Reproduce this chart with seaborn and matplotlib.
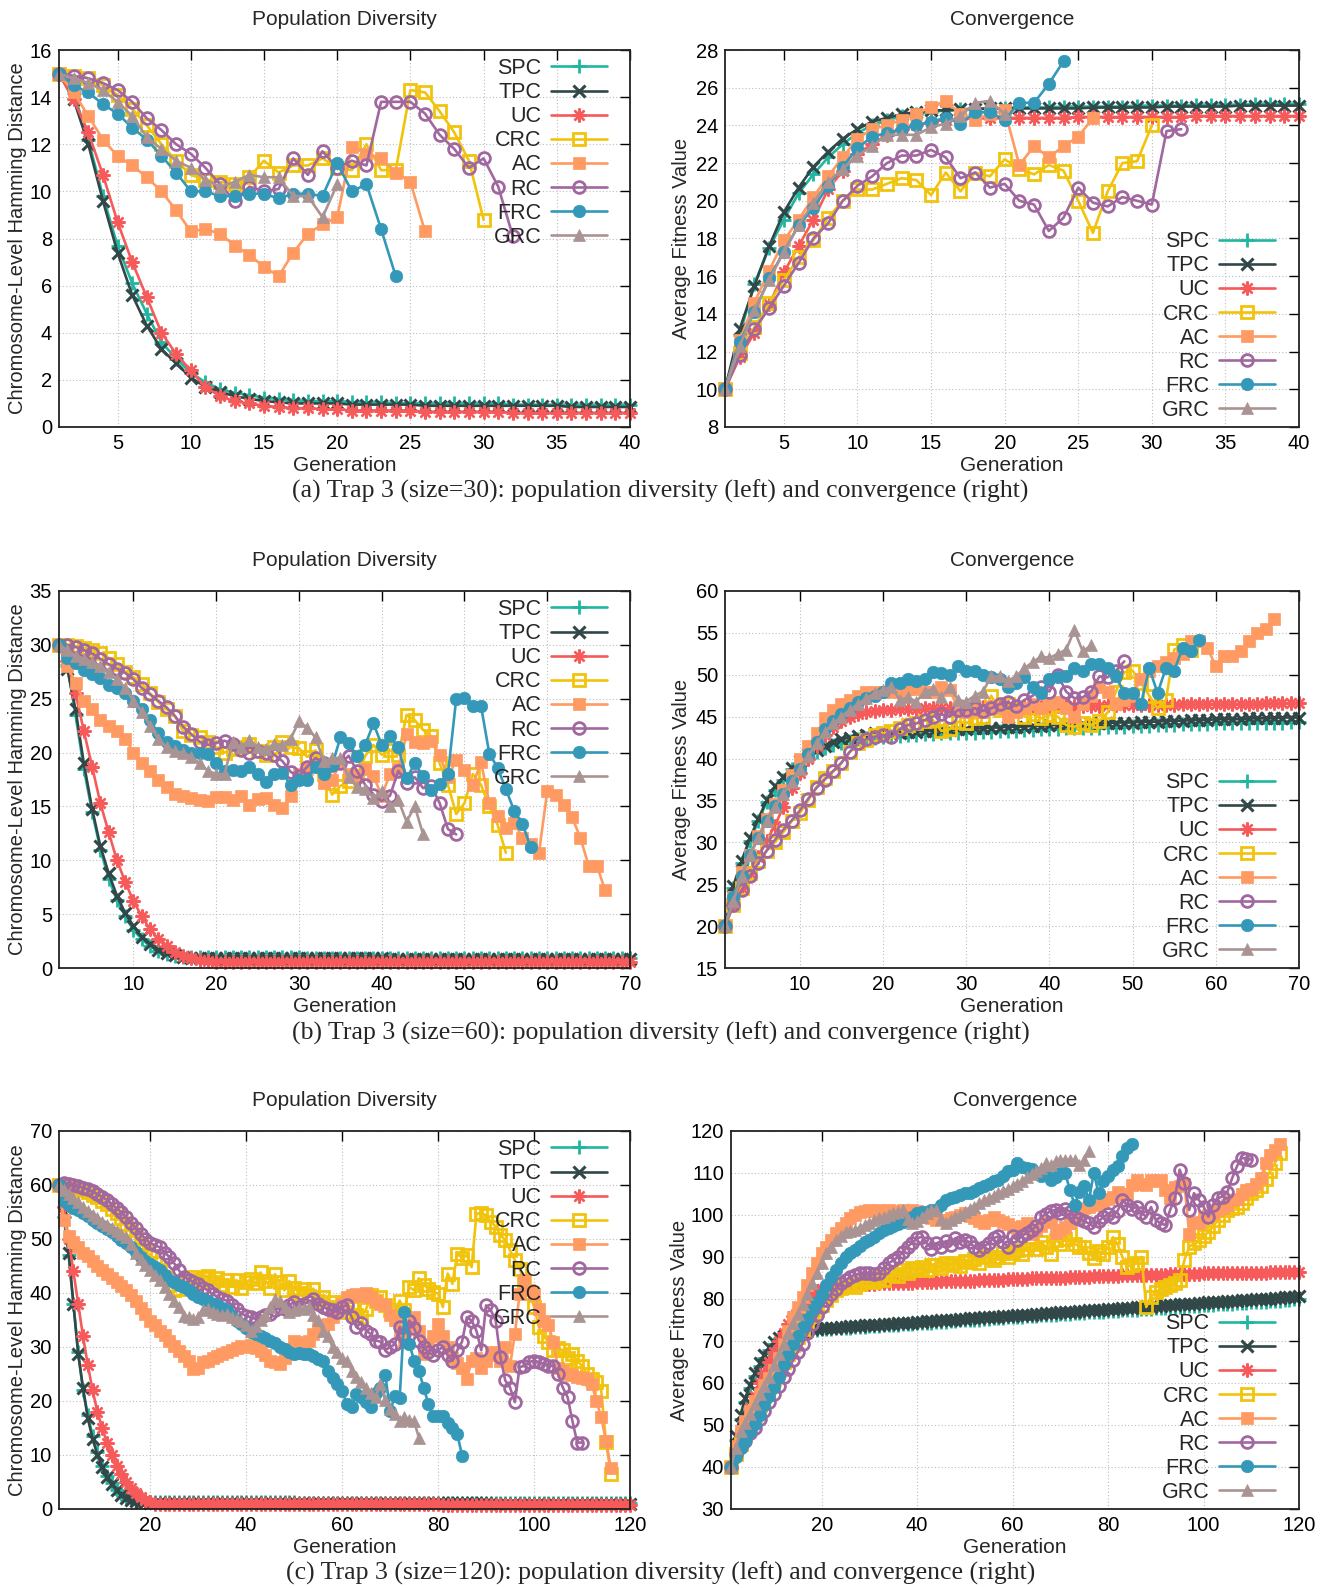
import numpy as np
import matplotlib
matplotlib.use("Agg")
import matplotlib.pyplot as plt
import seaborn as sns

sns.set_style("white")
plt.rcParams["font.family"] = ["Liberation Sans", "DejaVu Sans"]

METHODS = ["SPC", "TPC", "UC", "CRC", "AC", "RC", "FRC", "GRC"]
COLORS = {
    "SPC": "#20b7a0", "TPC": "#324747", "UC": "#f65a5a", "CRC": "#f2c30c",
    "AC": "#fe9a62", "RC": "#a1679f", "FRC": "#3498b9", "GRC": "#aa9393",
}

# ---------------- (a) Trap 3, size = 30 ----------------
a_div_spc = [15.0, 14.2, 12.2, 9.8, 7.7, 6.1, 4.8, 3.6, 2.9, 2.3,
             1.9, 1.6, 1.45, 1.35, 1.25, 1.2, 1.15, 1.1, 1.1, 1.1,
             1.05, 1.05, 1.05, 1.0, 1.0, 1.0, 1.0, 1.0, 1.0, 1.0,
             1.0, 0.95, 0.95, 0.95, 0.95, 0.95, 0.95, 0.95, 0.95, 0.95]
a_div_tpc = [15.0, 13.9, 12.0, 9.6, 7.4, 5.6, 4.3, 3.3, 2.7, 2.1,
             1.7, 1.5, 1.3, 1.2, 1.1, 1.05, 1.0, 1.0, 1.0, 1.0,
             0.95, 0.95, 0.95, 0.95, 0.95, 0.9, 0.9, 0.9, 0.9, 0.9,
             0.9, 0.9, 0.9, 0.9, 0.9, 0.85, 0.85, 0.85, 0.85, 0.85]
a_div_uc = [15.0, 13.9, 12.5, 10.7, 8.7, 7.0, 5.5, 4.0, 3.1, 2.4,
            1.7, 1.3, 1.1, 1.0, 0.9, 0.85, 0.8, 0.8, 0.75, 0.75,
            0.7, 0.7, 0.7, 0.7, 0.7, 0.65, 0.65, 0.65, 0.65, 0.65,
            0.65, 0.6, 0.6, 0.6, 0.6, 0.6, 0.6, 0.6, 0.6, 0.6]
a_div_crc = [15.0, 14.9, 14.8, 14.5, 14.1, 13.5, 12.8, 12.0, 11.3, 10.7,
             10.5, 10.4, 10.3, 10.6, 11.3, 10.8, 11.1, 11.1, 11.4, 11.0,
             10.9, 12.0, 10.9, 10.9, 14.3, 14.2, 13.4, 12.5, 11.3, 8.8]
a_div_ac = [15.0, 14.2, 13.2, 12.2, 11.5, 11.1, 10.6, 10.0, 9.2, 8.3,
            8.4, 8.2, 7.7, 7.3, 6.8, 6.4, 7.4, 8.2, 8.6, 8.9,
            11.9, 11.6, 11.4, 10.8, 10.4, 8.3]
a_div_rc = [15.0, 14.9, 14.8, 14.6, 14.3, 13.8, 13.1, 12.6, 12.0, 11.6,
            11.0, 10.3, 9.6, 10.2, 10.0, 10.1, 11.4, 10.7, 11.7, 11.0,
            11.3, 11.1, 13.8, 13.8, 13.8, 13.3, 12.4, 11.8, 11.0, 11.4,
            10.2, 8.1]
a_div_frc = [15.0, 14.5, 14.2, 13.7, 13.3, 12.7, 12.2, 11.5, 10.8, 10.0,
             10.0, 9.8, 9.8, 9.9, 9.9, 9.7, 9.9, 9.9, 9.8, 11.2,
             10.0, 10.3, 8.4, 6.4]
a_div_grc = [15.0, 14.8, 14.6, 14.3, 13.8, 13.2, 12.3, 11.8, 11.3, 11.0,
             10.5, 10.2, 10.4, 10.7, 10.6, 10.6, 9.8, 9.8, 8.9, 10.3]

a_conv_spc = [10.0, 12.9, 15.6, 17.5, 19.0, 20.4, 21.4, 22.3, 23.0, 23.6,
              24.0, 24.3, 24.5, 24.6, 24.7, 24.8, 24.85, 24.9, 24.9, 24.9,
              24.95, 24.95, 24.95, 25.0, 25.0, 25.0, 25.0, 25.0, 25.05, 25.05,
              25.05, 25.05, 25.1, 25.1, 25.1, 25.1, 25.15, 25.15, 25.15, 25.15]
a_conv_tpc = [10.0, 13.2, 15.5, 17.6, 19.4, 20.7, 21.8, 22.6, 23.3, 23.8,
              24.2, 24.4, 24.6, 24.7, 24.8, 24.8, 24.85, 24.85, 24.9, 24.9,
              24.9, 24.9, 24.9, 24.9, 24.9, 24.95, 24.95, 24.95, 24.95, 24.95,
              25.0, 25.0, 25.0, 25.0, 25.0, 25.05, 25.05, 25.05, 25.05, 25.05]
a_conv_uc = [10.0, 11.7, 13.0, 14.5, 16.2, 17.6, 19.0, 20.6, 21.6, 22.5,
             23.0, 23.5, 23.8, 24.0, 24.2, 24.3, 24.35, 24.4, 24.4, 24.4,
             24.4, 24.4, 24.4, 24.4, 24.45, 24.45, 24.45, 24.45, 24.45, 24.45,
             24.45, 24.45, 24.5, 24.5, 24.5, 24.5, 24.5, 24.5, 24.5, 24.5]
a_conv_crc = [10.0, 11.9, 13.3, 14.6, 15.8, 17.0, 17.9, 19.1, 20.0, 20.6,
              20.6, 20.9, 21.2, 21.1, 20.3, 21.5, 20.5, 21.5, 21.3, 22.2,
              21.7, 21.4, 21.9, 21.6, 20.0, 18.3, 20.5, 22.0, 22.1, 24.0]
a_conv_ac = [10.0, 12.6, 14.6, 16.3, 17.9, 19.0, 20.2, 21.3, 22.3, 23.3,
             23.8, 24.0, 24.3, 24.6, 25.0, 25.3, 24.6, 24.3, 24.6, 24.8,
             21.9, 22.9, 22.3, 22.9, 23.4, 24.4]
a_conv_rc = [10.0, 11.8, 13.2, 14.3, 15.5, 16.7, 18.0, 18.8, 20.0, 20.8,
             21.3, 22.0, 22.4, 22.4, 22.7, 22.3, 21.2, 21.5, 20.7, 20.9,
             20.0, 19.8, 18.4, 19.1, 20.7, 19.9, 19.7, 20.2, 20.0, 19.8,
             23.7, 23.8]
a_conv_frc = [10.0, 12.5, 14.1, 15.9, 17.3, 18.7, 19.6, 20.8, 21.8, 22.8,
              23.4, 23.6, 23.8, 24.0, 24.2, 24.4, 24.1, 24.7, 24.7, 24.3,
              25.2, 25.2, 26.2, 27.4]
a_conv_grc = [10.0, 12.3, 14.2, 15.8, 17.3, 18.7, 19.9, 21.0, 21.7, 22.4,
              22.9, 23.5, 23.5, 23.5, 23.9, 24.1, 24.5, 25.2, 25.3, 24.6]

# ---------------- (b) Trap 3, size = 60 ----------------
b_div_spc = [30.0, 28.0, 23.5, 18.5, 14.5, 11.0, 8.3, 6.3, 4.8, 3.5,
             2.7, 2.0, 1.6, 1.3, 1.15, 1.05, 1.0, 1.0, 1.0, 1.0,
             1.0, 1.0, 1.0, 1.0, 1.0, 1.0, 1.0, 1.0, 1.0, 1.0,
             0.95, 0.95, 0.95, 0.95, 0.95, 0.95, 0.95, 0.95, 0.95, 0.95,
             0.95, 0.95, 0.95, 0.95, 0.95, 0.95, 0.95, 0.95, 0.95, 0.95,
             0.9, 0.9, 0.9, 0.9, 0.9, 0.9, 0.9, 0.9, 0.9, 0.9,
             0.9, 0.9, 0.9, 0.9, 0.9, 0.9, 0.9, 0.9, 0.9, 0.9]
b_div_tpc = [30.0, 27.8, 24.0, 19.0, 14.8, 11.3, 8.8, 6.7, 5.1, 3.9,
             2.9, 2.2, 1.7, 1.4, 1.2, 1.05, 0.95, 0.9, 0.9, 0.9,
             0.9, 0.9, 0.9, 0.9, 0.9, 0.9, 0.9, 0.9, 0.9, 0.9,
             0.9, 0.9, 0.9, 0.9, 0.9, 0.9, 0.9, 0.9, 0.9, 0.9,
             0.85, 0.85, 0.85, 0.85, 0.85, 0.85, 0.85, 0.85, 0.85, 0.85,
             0.85, 0.85, 0.85, 0.85, 0.85, 0.85, 0.85, 0.85, 0.85, 0.85,
             0.85, 0.85, 0.85, 0.85, 0.85, 0.85, 0.85, 0.85, 0.85, 0.85]
b_div_uc = [30.0, 28.5, 25.5, 22.0, 18.7, 15.3, 12.6, 10.0, 8.0, 6.2,
            4.8, 3.6, 2.7, 2.0, 1.5, 1.1, 0.9, 0.75, 0.65, 0.6,
            0.6, 0.6, 0.6, 0.6, 0.6, 0.6, 0.6, 0.6, 0.6, 0.6,
            0.6, 0.6, 0.6, 0.6, 0.6, 0.6, 0.6, 0.6, 0.6, 0.6,
            0.6, 0.6, 0.6, 0.6, 0.6, 0.6, 0.6, 0.6, 0.6, 0.6,
            0.6, 0.6, 0.6, 0.6, 0.6, 0.6, 0.6, 0.6, 0.6, 0.6,
            0.6, 0.6, 0.6, 0.6, 0.6, 0.6, 0.6, 0.6, 0.6, 0.6]
b_div_crc = [30.0, 30.0, 29.9, 29.7, 29.5, 29.2, 28.8, 28.2, 27.5, 27.0,
             26.4, 25.5, 24.7, 24.0, 23.4, 22.0, 21.6, 21.4, 21.0, 20.5,
             20.0, 20.3, 20.5, 20.8, 20.1, 19.8, 20.5, 21.0, 20.5, 20.4,
             19.6, 20.2, 18.0, 16.1, 16.9, 17.4, 17.8, 19.7, 20.7, 19.8,
             20.2, 19.8, 23.5, 23.0, 22.1, 21.5, 19.0, 17.0, 14.3, 15.3,
             18.0, 17.0, 15.0, 13.3, 10.7]
b_div_ac = [30.0, 28.0, 26.5, 24.8, 24.0, 23.0, 22.5, 22.0, 21.3, 20.0,
            19.0, 18.3, 17.5, 16.8, 16.2, 16.0, 15.8, 15.6, 15.5, 15.9,
            15.9, 15.6, 16.0, 15.1, 15.7, 15.8, 15.1, 14.9, 16.0, 18.0,
            18.5, 18.8, 17.2, 17.5, 19.0, 18.0, 17.8, 18.5, 17.8, 16.0,
            18.0, 18.5, 21.7, 21.0, 20.9, 21.1, 19.8, 17.7, 19.3, 18.4,
            17.0, 19.1, 15.3, 14.1, 13.0, 13.5, 12.1, 11.5, 10.7, 16.4,
            16.1, 15.1, 14.0, 12.1, 9.5, 9.5, 7.2]
b_div_rc = [30.0, 30.0, 29.8, 29.5, 29.2, 28.7, 28.2, 27.8, 27.4, 26.8,
            26.0, 25.4, 24.8, 24.2, 23.4, 22.4, 21.7, 21.0, 20.7, 20.9,
            21.1, 20.8, 20.2, 20.0, 20.1, 20.0, 19.8, 19.2, 18.2, 17.8,
            18.7, 19.5, 19.0, 18.8, 19.0, 19.7, 18.3, 17.0, 16.1, 15.5,
            16.0, 18.3, 17.2, 17.7, 16.7, 16.9, 15.3, 12.9, 12.4]
b_div_frc = [30.0, 28.8, 28.3, 27.7, 27.3, 26.9, 26.3, 26.0, 25.5, 24.8,
             24.0, 23.0, 21.8, 21.0, 20.6, 20.2, 20.0, 20.0, 19.9, 19.0,
             18.3, 18.4, 18.3, 18.7, 18.0, 17.3, 18.0, 18.1, 17.0, 17.5,
             17.5, 18.7, 18.0, 18.8, 21.4, 20.9, 19.7, 20.7, 22.7, 20.7,
             21.5, 20.5, 17.6, 19.0, 17.8, 16.5, 17.1, 18.0, 25.0, 25.1,
             24.3, 24.3, 19.9, 18.6, 16.6, 14.6, 13.4, 11.2]
b_div_grc = [30.0, 29.5, 29.0, 28.7, 28.4, 28.0, 27.5, 26.8, 26.0, 24.8,
             23.8, 22.5, 21.3, 20.5, 20.1, 20.0, 19.6, 19.0, 18.3, 18.0,
             18.0, 21.0, 20.5, 21.2, 20.5, 20.3, 20.8, 20.7, 21.3, 22.9,
             22.3, 21.4, 19.2, 19.5, 19.5, 17.7, 16.8, 16.6, 15.8, 16.4,
             15.0, 15.6, 13.6, 15.0, 12.4]

b_conv_spc = [20.0, 24.5, 27.5, 30.2, 32.5, 34.8, 36.3, 37.5, 38.7, 39.5,
              40.2, 40.8, 41.3, 41.6, 41.9, 42.1, 42.3, 42.4, 42.5, 42.6,
              42.7, 42.7, 42.8, 42.8, 42.9, 42.9, 43.0, 43.0, 43.0, 43.1,
              43.1, 43.2, 43.2, 43.3, 43.3, 43.3, 43.4, 43.4, 43.5, 43.5,
              43.5, 43.6, 43.6, 43.7, 43.7, 43.7, 43.8, 43.8, 43.8, 43.9,
              43.9, 43.9, 44.0, 44.0, 44.0, 44.1, 44.1, 44.1, 44.1, 44.2,
              44.2, 44.2, 44.2, 44.3, 44.3, 44.3, 44.3, 44.3, 44.4, 44.4]
b_conv_tpc = [20.0, 24.8, 27.8, 30.5, 32.8, 35.0, 36.7, 37.8, 38.9, 39.7,
              40.5, 41.0, 41.5, 42.0, 42.3, 42.5, 42.7, 42.8, 43.0, 43.0,
              43.1, 43.1, 43.2, 43.2, 43.3, 43.3, 43.4, 43.4, 43.5, 43.5,
              43.6, 43.6, 43.7, 43.7, 43.8, 43.8, 43.8, 43.9, 43.9, 44.0,
              44.0, 44.0, 44.1, 44.1, 44.2, 44.2, 44.2, 44.3, 44.3, 44.3,
              44.4, 44.4, 44.4, 44.5, 44.5, 44.5, 44.6, 44.6, 44.6, 44.7,
              44.7, 44.7, 44.7, 44.8, 44.8, 44.8, 44.8, 44.9, 44.9, 44.9]
b_conv_uc = [20.0, 22.5, 24.5, 26.3, 28.3, 30.2, 32.0, 34.2, 36.5, 38.3,
             40.0, 41.5, 42.8, 43.8, 44.5, 45.0, 45.3, 45.5, 45.7, 45.8,
             45.8, 45.9, 45.9, 45.9, 46.0, 46.0, 46.0, 46.0, 46.1, 46.1,
             46.1, 46.1, 46.1, 46.2, 46.2, 46.2, 46.2, 46.2, 46.2, 46.3,
             46.3, 46.3, 46.3, 46.3, 46.3, 46.3, 46.4, 46.4, 46.4, 46.4,
             46.4, 46.4, 46.4, 46.4, 46.4, 46.5, 46.5, 46.5, 46.5, 46.5,
             46.5, 46.5, 46.5, 46.5, 46.5, 46.6, 46.6, 46.6, 46.6, 46.6]
b_conv_crc = [20.0, 22.5, 24.6, 26.3, 27.8, 29.0, 30.0, 31.2, 32.5, 33.5,
              35.0, 36.6, 37.7, 38.5, 39.5, 40.8, 41.8, 42.2, 42.8, 43.0,
              43.3, 43.6, 44.0, 44.2, 44.5, 44.6, 43.3, 43.5, 44.4, 44.2,
              44.8, 45.0, 47.5, 45.8, 46.5, 45.9, 45.0, 45.3, 44.8, 45.2,
              45.0, 44.0, 43.8, 44.2, 44.0, 44.5, 45.5, 48.0, 50.3, 50.5,
              49.0, 47.5, 46.0, 47.0, 53.0, 53.5, 53.0]
b_conv_ac = [20.0, 23.5, 26.5, 28.5, 30.8, 32.8, 34.6, 36.2, 38.0, 40.0,
             41.5, 43.0, 44.8, 45.8, 46.5, 47.0, 47.5, 48.0, 48.0, 48.0,
             48.0, 48.0, 48.3, 48.3, 48.0, 48.0, 48.5, 48.2, 46.0, 45.5,
             45.8, 45.5, 46.2, 46.0, 45.0, 45.5, 46.0, 46.5, 46.0, 46.5,
             46.8, 46.0, 45.0, 46.5, 47.5, 48.5, 48.0, 46.5, 47.0, 47.5,
             49.5, 50.5, 51.0, 51.5, 52.0, 52.5, 54.0, 54.0, 53.2, 51.0,
             52.2, 52.3, 52.8, 54.0, 55.0, 55.5, 56.6]
b_conv_rc = [20.0, 22.5, 24.3, 26.0, 27.5, 29.0, 30.3, 31.5, 32.6, 33.8,
             35.2, 36.5, 37.5, 38.5, 39.5, 40.8, 41.8, 42.3, 42.6, 42.8,
             42.6, 43.5, 44.0, 44.2, 44.6, 45.0, 45.3, 45.0, 45.8, 45.8,
             46.0, 45.7, 46.0, 46.5, 46.7, 46.3, 47.0, 47.5, 48.5, 48.0,
             50.0, 48.0, 47.2, 47.3, 48.0, 49.8, 49.7, 50.5, 51.6]
b_conv_frc = [20.0, 23.5, 26.0, 28.5, 30.5, 32.5, 34.3, 35.8, 37.3, 38.8,
              40.5, 42.0, 43.5, 44.5, 45.3, 46.0, 46.8, 47.2, 47.5, 48.0,
              49.0, 49.0, 49.5, 49.3, 49.5, 50.3, 50.2, 50.0, 51.0, 50.5,
              50.5, 50.0, 49.7, 49.5, 48.5, 49.0, 49.7, 48.5, 47.8, 49.5,
              49.7, 49.8, 50.8, 50.5, 51.3, 51.3, 50.8, 49.8, 47.8, 47.8,
              46.5, 50.8, 47.8, 50.8, 50.5, 53.2, 52.8, 54.2]
b_conv_grc = [20.0, 23.0, 26.0, 28.5, 30.5, 32.5, 34.2, 35.8, 37.2, 38.7,
              40.3, 41.8, 43.2, 44.2, 45.0, 45.8, 46.5, 47.2, 47.8, 48.2,
              48.6, 47.0, 47.3, 46.8, 48.0, 48.3, 47.3, 48.5, 47.0, 46.8,
              47.5, 48.0, 49.8, 49.8, 49.3, 49.8, 50.8, 51.5, 52.2, 52.0,
              52.5, 53.0, 55.3, 52.8, 53.5]

# ---------------- (c) Trap 3, size = 120 ----------------
c_div_spc = [60.0, 54.0, 47.0, 38.0, 29.0, 22.0, 17.5, 13.5, 10.5, 8.0,
             6.2, 4.8, 3.6, 2.8, 2.2, 1.8, 1.5, 1.4, 1.3, 1.3,
             1.3, 1.3, 1.3, 1.3, 1.3, 1.3, 1.3, 1.3, 1.3, 1.3,
             1.3, 1.3, 1.3, 1.3, 1.3, 1.3, 1.3, 1.3, 1.3, 1.3,
             1.3, 1.3, 1.3, 1.3, 1.3, 1.3, 1.3, 1.3, 1.3, 1.3,
             1.2, 1.2, 1.2, 1.2, 1.2, 1.2, 1.2, 1.2, 1.2, 1.2,
             1.2, 1.2, 1.2, 1.2, 1.2, 1.2, 1.2, 1.2, 1.2, 1.2,
             1.2, 1.2, 1.2, 1.2, 1.2, 1.2, 1.2, 1.2, 1.2, 1.2,
             1.2, 1.2, 1.2, 1.2, 1.2, 1.2, 1.2, 1.2, 1.2, 1.2,
             1.1, 1.1, 1.1, 1.1, 1.1, 1.1, 1.1, 1.1, 1.1, 1.1,
             1.1, 1.1, 1.1, 1.1, 1.1, 1.1, 1.1, 1.1, 1.1, 1.1,
             1.1, 1.1, 1.1, 1.1, 1.1, 1.1, 1.1, 1.1, 1.1, 1.1]
c_div_tpc = [60.0, 55.0, 47.5, 38.0, 28.7, 22.5, 16.8, 13.0, 10.0, 7.8,
             6.0, 4.6, 3.5, 2.6, 2.0, 1.6, 1.4, 1.3, 1.25, 1.2,
             1.2, 1.2, 1.2, 1.2, 1.2, 1.2, 1.2, 1.2, 1.2, 1.2,
             1.2, 1.2, 1.2, 1.2, 1.2, 1.2, 1.2, 1.2, 1.2, 1.2,
             1.2, 1.2, 1.2, 1.2, 1.2, 1.2, 1.2, 1.2, 1.2, 1.2,
             1.1, 1.1, 1.1, 1.1, 1.1, 1.1, 1.1, 1.1, 1.1, 1.1,
             1.1, 1.1, 1.1, 1.1, 1.1, 1.1, 1.1, 1.1, 1.1, 1.1,
             1.1, 1.1, 1.1, 1.1, 1.1, 1.1, 1.1, 1.1, 1.1, 1.1,
             1.1, 1.1, 1.1, 1.1, 1.1, 1.1, 1.1, 1.1, 1.1, 1.1,
             1.0, 1.0, 1.0, 1.0, 1.0, 1.0, 1.0, 1.0, 1.0, 1.0,
             1.0, 1.0, 1.0, 1.0, 1.0, 1.0, 1.0, 1.0, 1.0, 1.0,
             1.0, 1.0, 1.0, 1.0, 1.0, 1.0, 1.0, 1.0, 1.0, 1.0]
c_div_uc = [60.0, 56.0, 50.0, 44.0, 38.0, 32.0, 26.7, 22.0, 18.0, 15.0,
            12.3, 10.0, 8.0, 6.4, 5.0, 3.9, 3.0, 2.3, 1.7, 1.3,
            1.0, 0.9, 0.9, 0.9, 0.9, 0.9, 0.9, 0.9, 0.9, 0.9,
            0.9, 0.9, 0.9, 0.9, 0.9, 0.9, 0.9, 0.9, 0.9, 0.9,
            0.85, 0.85, 0.85, 0.85, 0.85, 0.85, 0.85, 0.85, 0.85, 0.85,
            0.85, 0.85, 0.85, 0.85, 0.85, 0.85, 0.85, 0.85, 0.85, 0.85,
            0.85, 0.85, 0.85, 0.85, 0.85, 0.85, 0.85, 0.85, 0.85, 0.85,
            0.85, 0.85, 0.85, 0.85, 0.85, 0.85, 0.85, 0.85, 0.85, 0.85,
            0.8, 0.8, 0.8, 0.8, 0.8, 0.8, 0.8, 0.8, 0.8, 0.8,
            0.8, 0.8, 0.8, 0.8, 0.8, 0.8, 0.8, 0.8, 0.8, 0.8,
            0.8, 0.8, 0.8, 0.8, 0.8, 0.8, 0.8, 0.8, 0.8, 0.8,
            0.8, 0.8, 0.8, 0.8, 0.8, 0.8, 0.8, 0.8, 0.8, 0.8]
c_div_crc = [60.0, 60.0, 59.8, 59.6, 59.4, 59.1, 58.7, 58.2, 57.7, 57.1,
             56.4, 55.6, 54.8, 53.8, 52.8, 51.6, 50.4, 49.2, 48.0, 46.8,
             45.5, 44.2, 43.0, 41.5, 40.5, 40.8, 41.8, 42.5, 43.0, 42.2,
             42.8, 43.2, 42.0, 42.7, 41.5, 42.5, 41.2, 42.4, 41.0, 42.0,
             42.6, 41.8, 43.8, 42.3, 41.0, 43.5, 42.0, 40.5, 42.2, 41.0,
             40.0, 40.8, 39.5, 40.8, 38.5, 39.2, 37.5, 38.3, 37.0, 38.3,
             36.5, 37.2, 36.0, 35.5, 37.0, 39.6, 38.5, 39.3, 37.8, 36.8,
             36.5, 38.6, 36.8, 41.1, 40.5, 42.7, 41.5, 40.8, 40.2, 39.9,
             37.4, 43.6, 41.7, 47.3, 46.5, 47.0, 44.8, 54.7, 54.8, 54.4,
             53.2, 52.3, 50.7, 49.8, 47.9, 46.1, 44.5, 42.0, 40.0, 37.5,
             33.7, 32.0, 31.0, 29.4, 29.8, 29.4, 28.0, 28.7, 27.5, 26.5,
             25.0, 24.0, 23.5, 21.9, 12.5, 6.5]
c_div_ac = [60.0, 53.5, 50.5, 49.5, 48.5, 47.5, 46.8, 46.0, 45.0, 44.2,
            43.6, 42.8, 42.0, 41.3, 40.5, 39.6, 38.5, 37.3, 36.1, 34.9,
            34.0, 33.0, 32.2, 31.2, 30.2, 29.2, 28.3, 27.5, 26.0, 26.2,
            27.3, 27.5, 28.0, 28.3, 28.7, 29.0, 29.4, 29.8, 30.2, 30.0,
            30.4, 29.8, 29.2, 28.5, 27.5, 27.2, 26.9, 28.0, 29.5, 31.2,
            31.0, 30.8, 31.2, 32.5, 33.7, 34.0, 34.3, 35.5, 36.8, 38.0,
            39.3, 39.6, 39.9, 39.5, 40.0, 39.3, 38.5, 38.0, 37.7, 36.0,
            35.0, 33.0, 31.0, 34.0, 35.5, 33.0, 28.7, 30.5, 32.0, 34.3,
            32.0, 30.0, 28.0, 27.0, 26.2, 24.0, 27.5, 28.0, 26.2, 27.5,
            29.0, 28.5, 27.5, 30.0, 26.5, 32.4, 39.9, 42.4, 40.5, 39.9,
            37.0, 34.9, 34.0, 31.0, 26.2, 25.5, 25.0, 24.8, 24.5, 24.2,
            24.0, 23.2, 20.0, 17.0, 12.6, 7.6]
c_div_rc = [60.0, 60.4, 60.2, 60.0, 59.8, 59.5, 59.2, 58.8, 58.3, 57.8,
            57.2, 56.5, 55.7, 55.0, 54.0, 53.0, 52.0, 51.0, 50.0, 49.3,
            48.8, 48.5, 47.5, 46.7, 45.5, 44.2, 43.0, 42.5, 42.0, 41.7,
            41.0, 40.5, 39.8, 39.3, 38.8, 38.6, 37.8, 37.0, 36.2, 35.8,
            35.5, 35.2, 35.5, 36.0, 36.2, 36.8, 37.4, 37.0, 37.8, 38.3,
            37.5, 38.0, 38.3, 38.8, 38.0, 37.4, 37.0, 36.8, 36.5, 37.4,
            37.8, 35.5, 33.7, 34.5, 33.0, 32.4, 31.2, 31.0, 29.4, 30.0,
            30.5, 33.7, 32.5, 34.9, 33.5, 31.2, 30.0, 29.0, 28.5, 29.4,
            30.0, 28.5, 27.5, 29.4, 31.0, 35.5, 34.9, 33.0, 29.4, 37.7,
            36.8, 34.9, 28.1, 23.8, 22.5, 19.8, 26.3, 26.5, 27.2, 27.5,
            27.2, 26.9, 26.5, 26.5, 25.0, 22.5, 20.7, 16.3, 12.3, 12.3]
c_div_frc = [60.0, 57.0, 56.3, 55.8, 55.3, 54.8, 54.2, 53.6, 53.0, 52.4,
             51.9, 51.3, 50.6, 49.8, 49.2, 48.5, 47.6, 46.7, 46.0, 45.3,
             44.8, 44.2, 43.3, 42.4, 42.0, 41.5, 41.1, 40.5, 39.9, 39.3,
             38.9, 38.5, 38.0, 37.7, 37.3, 36.8, 35.8, 34.8, 34.3, 33.5,
             32.8, 32.4, 32.0, 31.6, 31.2, 30.8, 30.0, 29.6, 29.0, 28.7,
             28.9, 28.7, 28.7, 28.3, 27.8, 27.5, 25.6, 24.2, 23.2, 21.9,
             19.4, 18.8, 21.3, 20.7, 19.8, 18.8, 21.5, 22.5, 24.9, 18.1,
             20.9, 20.5, 36.5, 30.6, 27.5, 25.6, 22.5, 19.4, 17.3, 17.3,
             17.3, 16.0, 15.0, 13.9, 9.9]
c_div_grc = [60.0, 59.0, 58.3, 57.6, 56.8, 56.0, 55.2, 54.5, 53.8, 53.2,
             52.6, 52.0, 51.5, 51.0, 50.4, 49.0, 47.5, 46.3, 45.2, 44.2,
             43.3, 42.4, 41.2, 39.9, 38.6, 37.4, 35.8, 35.5, 35.2, 35.5,
             36.8, 37.0, 36.5, 36.2, 36.0, 36.2, 35.5, 35.2, 34.9, 34.0,
             33.0, 33.8, 35.0, 36.0, 37.5, 38.8, 38.6, 37.5, 36.5, 36.8,
             37.2, 37.0, 37.4, 36.0, 35.0, 33.0, 32.0, 30.0, 29.0, 28.0,
             27.5, 25.6, 24.4, 23.5, 22.5, 21.5, 20.7, 23.2, 20.1, 18.5,
             17.6, 16.3, 17.0, 16.5, 16.3, 13.2]

c_conv_spc = [40.0, 46.5, 51.5, 55.5, 58.8, 61.6, 64.0, 66.0, 67.8, 69.2,
              70.2, 70.9, 71.4, 71.8, 72.1, 72.3, 72.5, 72.6, 72.7, 72.8,
              72.9, 72.9, 73.0, 73.1, 73.1, 73.2, 73.3, 73.4, 73.4, 73.5,
              73.6, 73.6, 73.7, 73.8, 73.9, 73.9, 74.0, 74.1, 74.1, 74.2,
              74.3, 74.4, 74.4, 74.5, 74.6, 74.6, 74.7, 74.8, 74.9, 74.9,
              75.0, 75.1, 75.1, 75.2, 75.3, 75.4, 75.4, 75.5, 75.6, 75.6,
              75.7, 75.8, 75.9, 75.9, 76.0, 76.1, 76.1, 76.2, 76.3, 76.4,
              76.4, 76.5, 76.6, 76.6, 76.7, 76.8, 76.9, 76.9, 77.0, 77.1,
              77.1, 77.2, 77.3, 77.4, 77.4, 77.5, 77.6, 77.6, 77.7, 77.8,
              77.9, 77.9, 78.0, 78.1, 78.1, 78.2, 78.3, 78.4, 78.4, 78.5,
              78.6, 78.6, 78.7, 78.8, 78.9, 78.9, 79.0, 79.1, 79.1, 79.2,
              79.3, 79.4, 79.4, 79.5, 79.6, 79.6, 79.7, 79.8, 79.9, 79.9]
c_conv_tpc = [40.0, 47.5, 52.5, 56.5, 59.5, 62.3, 64.7, 66.7, 68.5, 69.8,
              70.7, 71.3, 71.7, 72.0, 72.3, 72.5, 72.7, 72.8, 72.9, 73.0,
              73.1, 73.2, 73.2, 73.3, 73.4, 73.5, 73.5, 73.6, 73.7, 73.8,
              73.8, 73.9, 74.0, 74.1, 74.1, 74.2, 74.3, 74.4, 74.4, 74.5,
              74.6, 74.7, 74.7, 74.8, 74.9, 75.0, 75.1, 75.1, 75.2, 75.3,
              75.4, 75.4, 75.5, 75.6, 75.7, 75.7, 75.8, 75.9, 76.0, 76.0,
              76.1, 76.2, 76.3, 76.3, 76.4, 76.5, 76.6, 76.6, 76.7, 76.8,
              76.9, 77.0, 77.0, 77.1, 77.2, 77.3, 77.3, 77.4, 77.5, 77.6,
              77.6, 77.7, 77.8, 77.9, 77.9, 78.0, 78.1, 78.2, 78.2, 78.3,
              78.4, 78.5, 78.5, 78.6, 78.7, 78.8, 78.9, 78.9, 79.0, 79.1,
              79.2, 79.2, 79.3, 79.4, 79.5, 79.5, 79.6, 79.7, 79.8, 79.8,
              79.9, 80.0, 80.1, 80.1, 80.2, 80.3, 80.4, 80.4, 80.5, 80.6]
c_conv_uc = [40.0, 44.0, 47.5, 51.0, 54.0, 57.0, 60.0, 62.5, 65.0, 67.5,
             70.0, 72.0, 74.0, 76.0, 77.5, 79.0, 80.2, 81.0, 81.8, 82.3,
             82.7, 83.0, 83.2, 83.3, 83.4, 83.4, 83.5, 83.5, 83.5, 83.6,
             83.6, 83.7, 83.7, 83.7, 83.8, 83.8, 83.8, 83.9, 83.9, 84.0,
             84.0, 84.0, 84.1, 84.1, 84.2, 84.2, 84.2, 84.3, 84.3, 84.3,
             84.4, 84.4, 84.5, 84.5, 84.5, 84.6, 84.6, 84.6, 84.7, 84.7,
             84.8, 84.8, 84.8, 84.9, 84.9, 85.0, 85.0, 85.0, 85.1, 85.1,
             85.1, 85.2, 85.2, 85.3, 85.3, 85.3, 85.4, 85.4, 85.4, 85.5,
             85.5, 85.5, 85.6, 85.6, 85.6, 85.7, 85.7, 85.7, 85.8, 85.8,
             85.8, 85.8, 85.9, 85.9, 85.9, 86.0, 86.0, 86.0, 86.0, 86.1,
             86.1, 86.1, 86.1, 86.2, 86.2, 86.2, 86.2, 86.2, 86.3, 86.3,
             86.3, 86.3, 86.3, 86.4, 86.4, 86.4, 86.4, 86.4, 86.4, 86.5]
c_conv_crc = [40.0, 43.0, 45.5, 48.0, 50.2, 52.5, 54.8, 57.0, 59.0, 61.0,
              63.0, 65.0, 67.0, 69.0, 71.0, 72.8, 74.5, 76.0, 77.3, 78.6,
              79.8, 81.0, 82.1, 82.6, 83.0, 83.4, 82.9, 83.6, 84.2, 84.5,
              84.0, 85.0, 84.6, 85.7, 86.0, 85.4, 86.9, 86.2, 87.3, 86.8,
              87.7, 87.0, 88.0, 88.1, 87.5, 88.6, 88.2, 88.5, 87.8, 89.0,
              88.9, 89.5, 88.6, 90.3, 90.0, 89.4, 90.0, 91.0, 90.0, 90.9,
              91.6, 90.8, 92.0, 93.1, 92.0, 93.5, 92.4, 90.8, 94.0, 93.2,
              94.2, 95.5, 93.1, 92.5, 92.3, 91.0, 89.7, 91.4, 90.8, 92.3,
              94.7, 93.0, 90.0, 87.7, 88.0, 88.5, 90.0, 78.1, 80.5, 81.7,
              82.3, 82.9, 83.3, 83.7, 84.5, 89.3, 92.4, 93.3, 94.0, 94.9,
              96.0, 97.3, 98.8, 100.0, 101.2, 101.6, 102.0, 102.8, 104.0, 105.2,
              106.0, 106.8, 108.5, 110.5, 112.5, 114.8]
c_conv_ac = [40.0, 45.0, 48.6, 51.0, 53.4, 55.8, 57.5, 59.5, 61.3, 63.0,
             66.0, 69.4, 72.5, 75.7, 78.0, 80.5, 83.3, 86.1, 88.5, 90.9,
             92.5, 94.0, 95.7, 97.0, 98.0, 99.3, 100.0, 100.8, 101.0, 101.2,
             101.0, 101.2, 101.0, 101.2, 101.0, 100.8, 101.2, 101.0, 101.2, 101.0,
             100.3, 99.6, 99.2, 98.8, 98.8, 98.8, 99.2, 99.6, 100.0, 100.4,
             99.8, 99.2, 98.6, 98.0, 98.8, 99.6, 98.8, 98.4, 97.8, 97.2,
             96.8, 97.5, 98.0, 95.4, 96.5, 97.5, 98.4, 98.4, 95.6, 96.5,
             97.2, 98.0, 99.0, 100.2, 101.6, 102.0, 102.5, 102.7, 103.3, 103.9,
             104.3, 105.5, 105.1, 105.1, 107.1, 108.3, 107.5, 107.1, 108.4, 108.0,
             108.3, 106.0, 104.0, 106.7, 107.0, 107.5, 95.4, 98.4, 98.0, 99.5,
             100.0, 100.4, 101.2, 101.6, 102.5, 103.5, 103.9, 105.0, 106.0, 106.3,
             107.5, 108.8, 112.3, 114.4, 115.5, 117.0]
c_conv_rc = [40.0, 43.1, 44.8, 46.3, 48.0, 49.4, 51.5, 53.4, 55.4, 57.4,
             59.4, 61.4, 63.4, 65.4, 67.4, 69.4, 71.8, 74.1, 76.1, 78.1,
             79.8, 81.3, 82.5, 83.7, 84.5, 85.3, 85.8, 86.1, 86.3, 86.1,
             85.9, 86.1, 87.3, 88.5, 89.2, 90.0, 91.2, 92.5, 93.4, 94.5,
             94.8, 93.3, 92.0, 93.3, 92.5, 93.8, 92.8, 94.5, 93.5, 94.1,
             93.5, 92.3, 91.7, 92.5, 93.3, 94.5, 94.9, 93.5, 92.5, 94.9,
             94.0, 95.0, 95.8, 96.4, 97.5, 99.6, 100.2, 101.0, 101.2, 100.5,
             101.5, 100.8, 99.6, 99.0, 98.5, 98.0, 97.2, 98.5, 99.5, 100.3,
             99.6, 101.0, 103.5, 102.5, 101.5, 101.9, 100.5, 99.6, 101.9, 98.8,
             98.0, 97.6, 101.2, 104.0, 110.8, 107.6, 101.2, 105.2, 103.6, 102.0,
             99.6, 102.5, 104.0, 104.4, 105.5, 108.8, 111.6, 113.6, 113.4, 113.2]
c_conv_frc = [40.0, 42.3, 44.5, 46.3, 48.3, 50.2, 52.5, 54.8, 57.0, 59.0,
              61.5, 64.6, 67.0, 69.4, 71.3, 73.3, 75.3, 77.3, 79.3, 81.3,
              83.3, 85.3, 87.0, 88.5, 90.0, 91.0, 91.7, 92.7, 93.5, 94.1,
              94.8, 95.7, 96.5, 97.0, 97.3, 97.8, 98.3, 98.8, 99.6, 100.4,
              100.6, 100.8, 101.2, 101.2, 102.4, 103.6, 104.0, 104.4, 104.8, 105.2,
              105.2, 105.8, 106.4, 106.8, 107.4, 108.0, 108.4, 109.4, 110.4, 110.8,
              112.4, 111.5, 111.2, 111.0, 110.0, 109.2, 109.5, 108.4, 109.0, 110.0,
              110.0, 106.0, 102.4, 105.5, 107.0, 103.5, 110.0, 105.2, 108.0, 109.2,
              110.8, 111.6, 114.0, 116.0, 117.0]
c_conv_grc = [40.0, 44.5, 48.6, 50.5, 52.6, 55.0, 57.4, 59.3, 61.4, 64.2,
              67.0, 69.4, 71.8, 74.2, 76.5, 78.9, 81.3, 83.7, 86.1, 88.5,
              90.9, 92.5, 94.1, 95.0, 96.0, 96.3, 96.5, 97.0, 97.6, 98.2,
              98.8, 99.2, 99.6, 100.0, 100.4, 100.8, 101.2, 99.0, 98.0, 98.5,
              99.5, 100.4, 101.2, 101.2, 99.0, 98.0, 98.8, 99.6, 100.0, 100.8,
              101.5, 102.0, 102.8, 103.6, 104.0, 104.6, 105.2, 105.8, 106.3, 106.8,
              107.5, 108.2, 109.0, 109.8, 110.5, 111.2, 112.4, 111.8, 112.8, 113.0,
              113.2, 113.2, 113.0, 112.0, 113.0, 115.2]

panels = {
    "a_div": dict(SPC=a_div_spc, TPC=a_div_tpc, UC=a_div_uc, CRC=a_div_crc,
                  AC=a_div_ac, RC=a_div_rc, FRC=a_div_frc, GRC=a_div_grc),
    "a_conv": dict(SPC=a_conv_spc, TPC=a_conv_tpc, UC=a_conv_uc, CRC=a_conv_crc,
                   AC=a_conv_ac, RC=a_conv_rc, FRC=a_conv_frc, GRC=a_conv_grc),
    "b_div": dict(SPC=b_div_spc, TPC=b_div_tpc, UC=b_div_uc, CRC=b_div_crc,
                  AC=b_div_ac, RC=b_div_rc, FRC=b_div_frc, GRC=b_div_grc),
    "b_conv": dict(SPC=b_conv_spc, TPC=b_conv_tpc, UC=b_conv_uc, CRC=b_conv_crc,
                   AC=b_conv_ac, RC=b_conv_rc, FRC=b_conv_frc, GRC=b_conv_grc),
    "c_div": dict(SPC=c_div_spc, TPC=c_div_tpc, UC=c_div_uc, CRC=c_div_crc,
                  AC=c_div_ac, RC=c_div_rc, FRC=c_div_frc, GRC=c_div_grc),
    "c_conv": dict(SPC=c_conv_spc, TPC=c_conv_tpc, UC=c_conv_uc, CRC=c_conv_crc,
                   AC=c_conv_ac, RC=c_conv_rc, FRC=c_conv_frc, GRC=c_conv_grc),
}

captions = [
    "(a) Trap 3 (size=30): population diversity (left) and convergence (right)",
    "(b) Trap 3 (size=60): population diversity (left) and convergence (right)",
    "(c) Trap 3 (size=120): population diversity (left) and convergence (right)",
]


def marker_style(name):
    c = COLORS[name]
    styles = {
        "SPC": dict(marker="+", markersize=10, markeredgewidth=2.0),
        "TPC": dict(marker="x", markersize=8, markeredgewidth=2.2),
        "UC": dict(marker=(8, 2, 0), markersize=10, markeredgewidth=1.7),
        "CRC": dict(marker="s", markersize=8, markerfacecolor="none", markeredgewidth=2.0),
        "AC": dict(marker="s", markersize=8.5, markerfacecolor=c, markeredgewidth=0.5),
        "RC": dict(marker="o", markersize=8.5, markerfacecolor="none", markeredgewidth=2.0),
        "FRC": dict(marker="o", markersize=9, markerfacecolor=c, markeredgewidth=0.5),
        "GRC": dict(marker="^", markersize=9, markerfacecolor=c, markeredgewidth=0.5),
    }
    st = styles[name]
    st["markeredgecolor"] = c
    return st


def draw_panel(ax, series, xmax, xticks, yticks, title, ylabel, legend_loc,
               legend_anchor, ylabel_x):
    for name in METHODS:
        vals = series[name]
        gens = np.arange(1, len(vals) + 1)
        sns.lineplot(x=gens, y=vals, ax=ax, color=COLORS[name], linewidth=1.9,
                     estimator=None, errorbar=None, label=name, clip_on=False,
                     **marker_style(name))
    ax.set_xlim(1, xmax)
    ax.set_ylim(yticks[0], yticks[-1])
    ax.set_xticks(xticks)
    ax.set_yticks(yticks)
    ax.grid(True, linestyle=(0, (1, 2)), color="#bdbdbd", linewidth=0.8)
    ax.set_axisbelow(True)
    ax.tick_params(direction="in", length=7, width=1, top=True, right=True,
                   labelsize=14.5, pad=5, colors="black")
    for sp in ax.spines.values():
        sp.set_visible(True)
        sp.set_linewidth(1.3)
        sp.set_color("#222222")
    ax.set_title(title, fontsize=15, pad=18)
    ax.set_xlabel("Generation", fontsize=15)
    ax.set_ylabel(ylabel, fontsize=14.5)
    ax.xaxis.set_label_coords(0.5, -0.078)
    ax.yaxis.set_label_coords(ylabel_x, 0.5)
    ax.legend(loc=legend_loc, bbox_to_anchor=legend_anchor, markerfirst=False,
              frameon=False, fontsize=15.5, handlelength=2.6, handletextpad=0.45,
              labelspacing=0.145, borderpad=0, borderaxespad=0)


fig = plt.figure(figsize=(13.28, 15.88), dpi=100)

W, H = 1328.0, 1588.0
rows = [(50, 427), (591, 968), (1131, 1509)]
left_x = (59, 630)
right_x = [(725, 1299), (725, 1299), (731, 1299)]
xmaxes = [40, 70, 120]
xtick_sets = [list(range(5, 41, 5)), list(range(10, 71, 10)), list(range(20, 121, 20))]
div_yticks = [list(range(0, 17, 2)), list(range(0, 36, 5)), list(range(0, 71, 10))]
conv_yticks = [list(range(8, 29, 2)), list(range(15, 61, 5)), list(range(30, 121, 10))]
conv_label_edge = [691, 691, 689]
caption_y = [491, 1033, 1573]
keys = ["a", "b", "c"]

for i, key in enumerate(keys):
    top, bot = rows[i]
    h = (bot - top) / H
    y0 = 1 - bot / H

    axl = fig.add_axes([left_x[0] / W, y0, (left_x[1] - left_x[0]) / W, h])
    wl = left_x[1] - left_x[0]
    draw_panel(axl, panels[key + "_div"], xmaxes[i], xtick_sets[i], div_yticks[i],
               "Population Diversity", "Chromosome-Level Hamming Distance",
               "upper right", (1 - 23 / wl, 1 - 8 / (bot - top)), (27 - left_x[0]) / wl)

    rx0, rx1 = right_x[i]
    axr = fig.add_axes([rx0 / W, y0, (rx1 - rx0) / W, h])
    wr = rx1 - rx0
    draw_panel(axr, panels[key + "_conv"], xmaxes[i], xtick_sets[i], conv_yticks[i],
               "Convergence", "Average Fitness Value",
               "lower right", (1 - 24 / wr, 6 / (bot - top)),
               (conv_label_edge[i] - rx0) / wr)

    fig.text(0.4975, 1 - caption_y[i] / H, captions[i], ha="center", va="center",
             fontsize=18.5, family=["Liberation Serif", "DejaVu Serif"])

fig.savefig("out.png", dpi=100)
